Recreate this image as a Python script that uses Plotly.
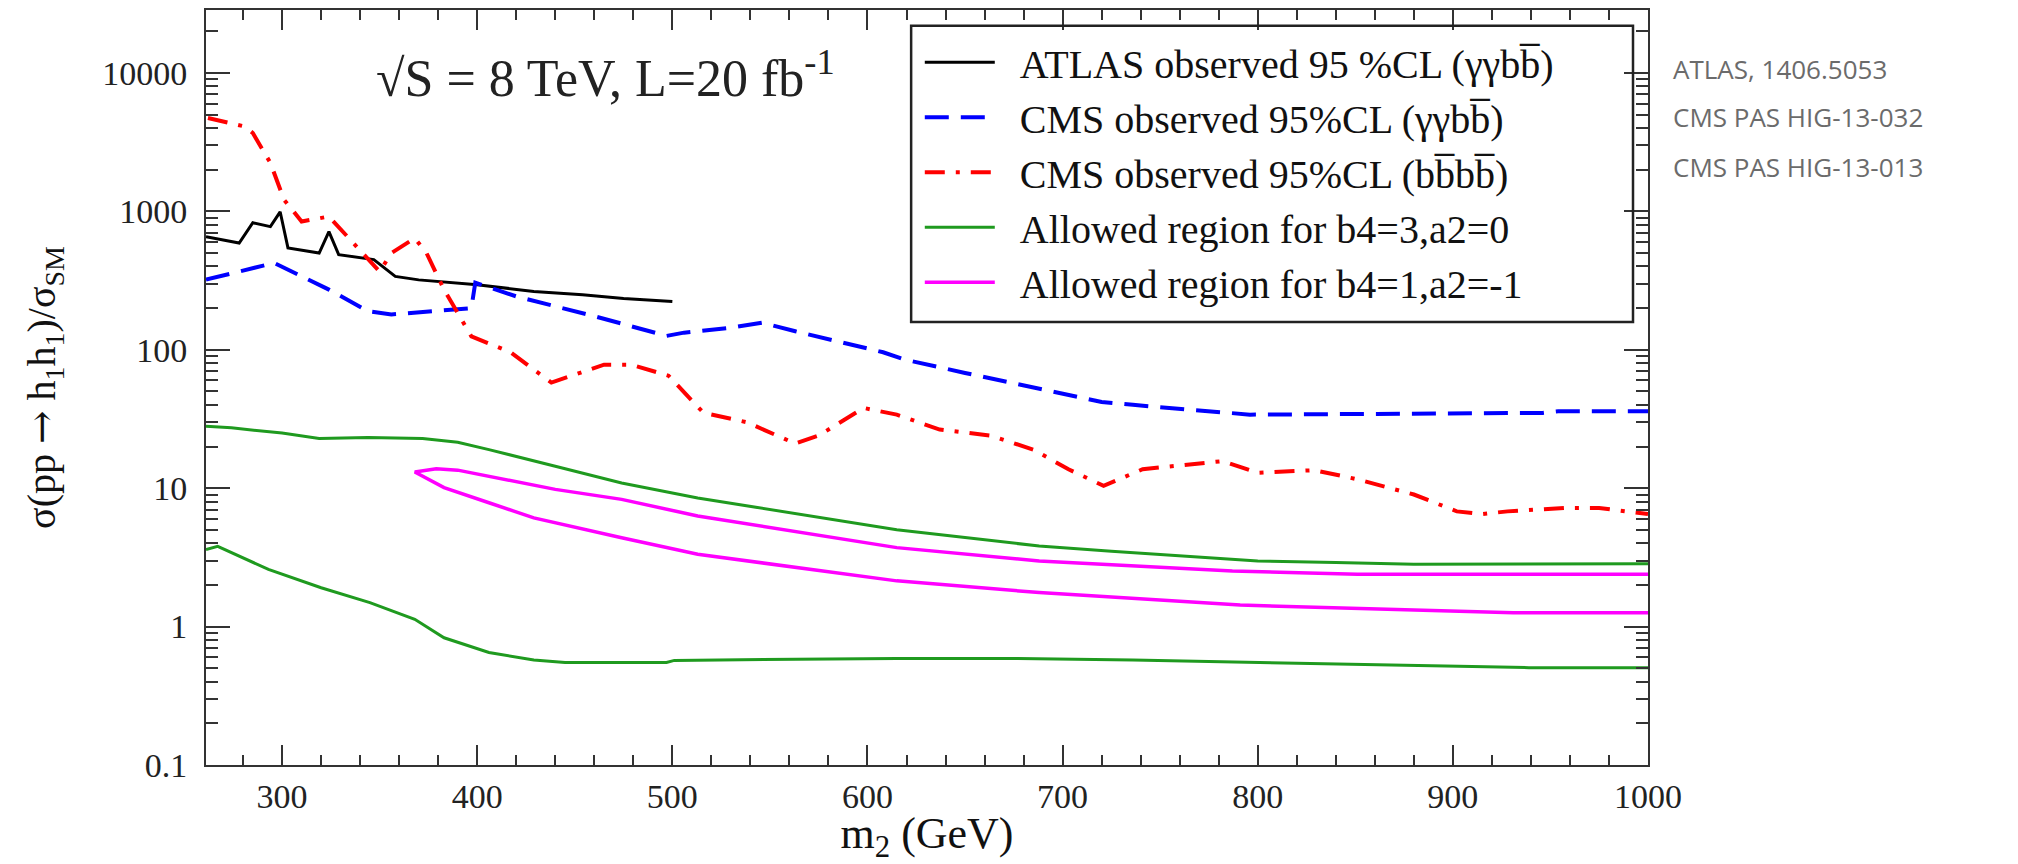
import plotly.graph_objects as go

# ---- data -------------------------------------------------------------
atlas_m = [261, 278, 285, 294, 299, 303, 319, 324, 329, 347, 358, 370, 400, 429, 454, 475, 500]
atlas_r = [656, 590, 828, 776, 993, 545, 500, 713, 487, 448, 339, 320, 295, 264, 250, 235, 223]

cms_gg_m = [261, 296, 324, 344, 356, 392, 397, 399, 420, 460, 497, 506, 531, 546, 563, 608,
            619, 650, 696, 720, 736, 775, 796, 946, 954, 1000]
cms_gg_r = [321, 424, 272, 190, 180, 195, 200, 305, 243, 175, 126, 133, 145, 157, 136, 96,
            85, 68, 49, 42, 40, 36, 34, 35, 36, 36]

cms_4b_m = [262, 281, 285, 294, 301, 310, 324, 335, 350, 356, 368, 374, 383, 392, 397, 417,
            438, 465, 479, 498, 516, 538, 563, 575, 598, 615, 637, 663, 685, 703, 721, 741,
            771, 782, 800, 815, 829, 851, 880, 902, 915, 928, 957, 975, 1000]
cms_4b_r = [4730, 4100, 3680, 2240, 1213, 845, 918, 624, 367, 500, 641, 500, 272, 165, 125, 96,
            58, 78, 78, 65, 35, 30, 21, 24, 38, 34, 26.5, 24, 19, 13.7, 10.4, 13.7,
            15.3, 15.7, 12.9, 13.3, 13.5, 11.6, 9.0, 6.8, 6.5, 6.8, 7.2, 7.2, 6.5]

b4_3_upper_m = [261, 274, 300, 319, 344, 372, 390, 406, 440, 474, 513, 550, 580, 615, 650,
                688, 725, 761, 800, 840, 880, 1000]
b4_3_upper_r = [28, 27.3, 25, 22.9, 23.2, 22.9, 21.5, 19, 14.4, 10.9, 8.5, 7.0, 6.0, 5.0, 4.4,
                3.82, 3.5, 3.24, 2.98, 2.9, 2.82, 2.85]

b4_3_lower_m = [261, 267, 293, 320, 345, 368, 383, 406, 429, 445, 497, 501, 615, 677, 736,
                800, 840, 899, 939, 1000]
b4_3_lower_r = [3.6, 3.8, 2.59, 1.91, 1.49, 1.13, 0.83, 0.65, 0.574, 0.55, 0.55, 0.57, 0.589,
                0.589, 0.573, 0.55, 0.536, 0.52, 0.505, 0.505]

# closed contour: upper edge right->left, then lower edge left->right
b4_1_m = [1000, 851, 787, 688, 615, 513, 474, 440, 390, 379, 368,
          372, 383, 406, 429, 474, 513, 615, 688, 791, 891, 931, 1000]
b4_1_r = [2.39, 2.39, 2.52, 2.98, 3.72, 6.3, 8.3, 9.8, 13.5, 13.8, 13.1,
          12.2, 10.1, 7.85, 6.1, 4.38, 3.33, 2.14, 1.76, 1.43, 1.31, 1.26, 1.26]

y_tick_vals = [0.1, 1, 10, 100, 1000, 10000]
y_tick_text = ["0.1", "1", "10", "100", "1000", "10000"]
y_minor_vals = [d * m for d in [0.1, 1, 10, 100, 1000, 10000] for m in range(2, 10)]

refs = ["ATLAS, 1406.5053", "CMS PAS HIG-13-032", "CMS PAS HIG-13-013"]

# ---- figure -----------------------------------------------------------
SERIF = "Liberation Serif"
GREEN = "#1f9a1f"
OB = "b\u0305"
PAD = "\u00a0\u00a0"
ARROW = "<span style=\"font-family:'DejaVu Serif'\">\u2192</span>"

fig = go.Figure()
fig.add_trace(go.Scatter(x=atlas_m, y=atlas_r, mode="lines", legendgroup="a",
                         name=PAD + "ATLAS observed 95 %CL (\u03b3\u03b3b" + OB + ")",
                         line=dict(color="black", width=3)))
fig.add_trace(go.Scatter(x=cms_gg_m, y=cms_gg_r, mode="lines", legendgroup="b",
                         name=PAD + "CMS observed 95%CL (\u03b3\u03b3b" + OB + ")",
                         line=dict(color="#0000ff", width=4, dash="24px,12px")))
fig.add_trace(go.Scatter(x=cms_4b_m, y=cms_4b_r, mode="lines", legendgroup="c",
                         name=PAD + "CMS observed 95%CL (b" + OB + "b" + OB + ")",
                         line=dict(color="#ff0000", width=4, dash="20px,11px,4px,11px")))
fig.add_trace(go.Scatter(x=b4_3_upper_m, y=b4_3_upper_r, mode="lines", legendgroup="d",
                         name=PAD + "Allowed region for b4=3,a2=0",
                         line=dict(color=GREEN, width=3)))
fig.add_trace(go.Scatter(x=b4_3_lower_m, y=b4_3_lower_r, mode="lines", legendgroup="d",
                         showlegend=False, name="Allowed region for b4=3,a2=0",
                         line=dict(color=GREEN, width=3)))
fig.add_trace(go.Scatter(x=b4_1_m, y=b4_1_r, mode="lines", legendgroup="e",
                         name=PAD + "Allowed region for b4=1,a2=-1",
                         line=dict(color="#ff00ff", width=3.5)))

axis_common = dict(showline=True, linecolor="#333", linewidth=2, mirror="allticks",
                   ticks="inside", tickcolor="#333", tickwidth=2, showgrid=False,
                   zeroline=False, automargin=False,
                   tickfont=dict(family=SERIF, size=34, color="#222"))

fig.update_xaxes(range=[261, 1000], tick0=0, dtick=100, ticklen=20,
                 ticklabelstandoff=0,
                 minor=dict(dtick=20, ticks="inside", ticklen=10, tickcolor="#333",
                            tickwidth=2),
                 title=dict(text="m<sub>2</sub> (GeV)", standoff=14,
                            font=dict(family=SERIF, size=44, color="#111")),
                 **axis_common)
fig.update_yaxes(type="log", range=[-1, 4.455], tickmode="array", tickvals=y_tick_vals,
                 ticktext=y_tick_text, ticklen=24, ticklabelstandoff=10,
                 minor=dict(tickmode="array", tickvals=y_minor_vals, ticks="inside",
                            ticklen=12, tickcolor="#333", tickwidth=2),
                 title=dict(text="\u03c3(pp " + ARROW + " h<sub>1</sub>h<sub>1</sub>)/\u03c3<sub>SM</sub>",
                            standoff=34, font=dict(family=SERIF, size=40, color="#111")),
                 **axis_common)

# legend frame
fig.add_shape(type="rect", xref="paper", yref="paper", x0=0.489, x1=0.9896,
              y0=0.5868, y1=0.979, line=dict(color="#222", width=2.5),
              fillcolor="rgba(0,0,0,0)", layer="above")

fig.update_layout(
    width=2018, height=864,
    margin=dict(l=206, r=370, t=10, b=99),
    paper_bgcolor="white", plot_bgcolor="white",
    showlegend=True,
    legend=dict(x=0.495, y=0.974, xanchor="left", yanchor="top",
                bgcolor="rgba(0,0,0,0)", borderwidth=0, itemwidth=70,
                tracegroupgap=0,
                font=dict(family=SERIF, size=40, color="#111")),
)

fig.add_annotation(text="\u221aS = 8 TeV, L=20 fb<sup>-1</sup>", xref="paper", yref="paper",
                   x=(605 - 206) / 1442, y=(765 - 74) / 755, xanchor="center",
                   yanchor="middle", showarrow=False,
                   font=dict(family=SERIF, size=52, color="#222"))

for txt, ypix in zip(refs, [69, 117, 167]):
    fig.add_annotation(text=txt, xref="paper", yref="paper", x=(1671 - 206) / 1442,
                       y=(765 - ypix) / 755, xanchor="left", yanchor="middle",
                       showarrow=False,
                       font=dict(family="Open Sans", size=26, color="#6b6b6b"))

fig.write_html("out.html")
